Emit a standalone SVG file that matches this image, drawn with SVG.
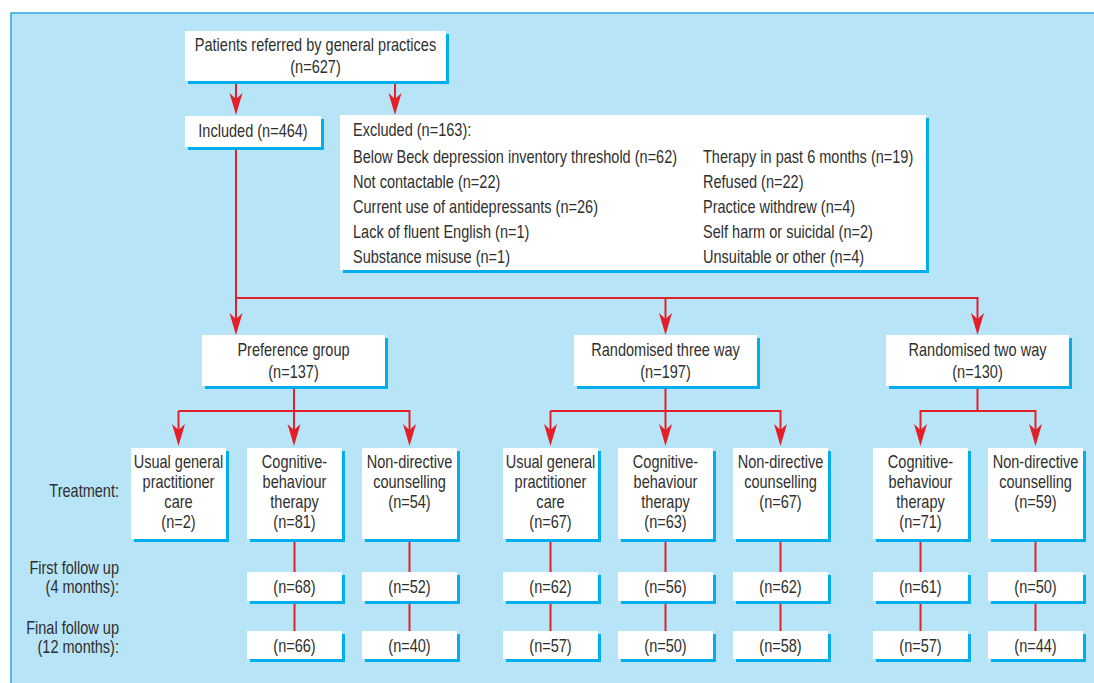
<svg xmlns="http://www.w3.org/2000/svg" width="1094" height="683" viewBox="0 0 1094 683">
<style>
.bg{fill:#b8e4f8;stroke:#2aa7df;stroke-width:1.5}
.box{fill:#ffffff}
.sh{fill:#00adee}
.t{font-family:"Liberation Sans",Arial,sans-serif;font-size:17.5px;fill:#2f2f2f}
.c{text-anchor:middle}
.e{text-anchor:end}
.ln{stroke:#e3202a;stroke-width:2;fill:none}
.ar{marker-end:url(#ah)}
</style>
<defs>
<marker id="ah" markerUnits="userSpaceOnUse" viewBox="-23 -8 24 16" refX="-8" refY="0" markerWidth="24" markerHeight="16" orient="auto">
<path d="M0,0 L-22,-6.5 L-16,0 L-22,6.5 Z" fill="#e3202a"/>
</marker>
</defs>
<rect x="0" y="0" width="1094" height="683" fill="#ffffff"/>
<rect class="bg" x="11" y="13" width="1100" height="690"/>

<g id="connectors">
<path class="ln ar" d="M236,81 V107"/>
<path class="ln ar" d="M395,81 V107"/>
<path class="ln ar" d="M236,147 V327"/>
<path class="ln ar" d="M236,298 H977.5 V327"/>
<path class="ln ar" d="M665.5,298 V327"/>
<path class="ln ar" d="M294,386 V438"/>
<path class="ln ar" d="M178.5,411 H409.5 V438"/>
<path class="ln ar" d="M178.5,411 V438"/>
<path class="ln ar" d="M665.5,386 V438"/>
<path class="ln ar" d="M550.5,411 H780.5 V438"/>
<path class="ln ar" d="M550.5,411 V438"/>
<path class="ln ar" d="M977.5,386 V411 H1035.5 V438"/>
<path class="ln ar" d="M977.5,411 H920.5 V438"/>
<path class="ln" d="M294.5,539 V572 M294.5,601 V631 M409.5,539 V572 M409.5,601 V631 M550.5,539 V572 M550.5,601 V631 M665.5,539 V572 M665.5,601 V631 M780.5,539 V572 M780.5,601 V631 M920.5,539 V572 M920.5,601 V631 M1035.5,539 V572 M1035.5,601 V631"/>
</g>

<g id="referred">
<rect class="sh" x="188" y="34" width="261" height="50"/>
<rect class="box" x="185" y="31" width="261" height="50"/>
<g transform="translate(315.5 0) scale(0.83 1)"><text class="t c" x="0" y="51.5">Patients referred by general practices</text><text class="t c" x="0" y="73">(n=627)</text></g>
</g>

<g id="included">
<rect class="sh" x="188" y="119" width="136" height="31"/>
<rect class="box" x="185" y="116" width="136" height="31"/>
<g transform="translate(253 0) scale(0.83 1)"><text class="t c" x="0" y="137">Included (n=464)</text></g>
</g>

<g id="excluded">
<rect class="sh" x="343" y="118" width="586" height="155"/>
<rect class="box" x="340" y="115" width="586" height="155"/>
<g transform="translate(353 0) scale(0.83 1)">
<text class="t" x="0" y="136">Excluded (n=163):</text>
<text class="t" x="0" y="163">Below Beck depression inventory threshold (n=62)</text>
<text class="t" x="0" y="188">Not contactable (n=22)</text>
<text class="t" x="0" y="213">Current use of antidepressants (n=26)</text>
<text class="t" x="0" y="238">Lack of fluent English (n=1)</text>
<text class="t" x="0" y="263">Substance misuse (n=1)</text>
</g>
<g transform="translate(703 0) scale(0.83 1)">
<text class="t" x="0" y="163">Therapy in past 6 months (n=19)</text>
<text class="t" x="0" y="188">Refused (n=22)</text>
<text class="t" x="0" y="213">Practice withdrew (n=4)</text>
<text class="t" x="0" y="238">Self harm or suicidal (n=2)</text>
<text class="t" x="0" y="263">Unsuitable or other (n=4)</text>
</g>
</g>

<g id="preference">
<rect class="sh" x="205" y="338" width="183" height="51"/>
<rect class="box" x="202" y="335" width="183" height="51"/>
<g transform="translate(293.5 0) scale(0.83 1)"><text class="t c" x="0" y="356.5">Preference group</text><text class="t c" x="0" y="378">(n=137)</text></g>
</g>

<g id="three-way">
<rect class="sh" x="577" y="338" width="183" height="51"/>
<rect class="box" x="574" y="335" width="183" height="51"/>
<g transform="translate(665.5 0) scale(0.83 1)"><text class="t c" x="0" y="356.5">Randomised three way</text><text class="t c" x="0" y="378">(n=197)</text></g>
</g>

<g id="two-way">
<rect class="sh" x="889" y="338" width="183" height="51"/>
<rect class="box" x="886" y="335" width="183" height="51"/>
<g transform="translate(977.5 0) scale(0.83 1)"><text class="t c" x="0" y="356.5">Randomised two way</text><text class="t c" x="0" y="378">(n=130)</text></g>
</g>

<g id="row-labels">
<g transform="translate(119 0) scale(0.83 1)">
<text class="t e" x="0" y="497">Treatment:</text>
<text class="t e" x="0" y="574">First follow up</text>
<text class="t e" x="0" y="593">(4 months):</text>
<text class="t e" x="0" y="634">Final follow up</text>
<text class="t e" x="0" y="653">(12 months):</text>
</g>
</g>

<g id="pref-usual">
<rect class="sh" x="134" y="451" width="95" height="91"/>
<rect class="box" x="131" y="448" width="95" height="91"/>
<g transform="translate(178.5 0) scale(0.83 1)"><text class="t c" x="0" y="468">Usual general</text><text class="t c" x="0" y="488">practitioner</text><text class="t c" x="0" y="508">care</text><text class="t c" x="0" y="528">(n=2)</text></g>
</g>

<g id="pref-cbt">
<rect class="sh" x="250" y="451" width="95" height="91"/>
<rect class="box" x="247" y="448" width="95" height="91"/>
<g transform="translate(294.5 0) scale(0.83 1)"><text class="t c" x="0" y="468">Cognitive-</text><text class="t c" x="0" y="488">behaviour</text><text class="t c" x="0" y="508">therapy</text><text class="t c" x="0" y="528">(n=81)</text></g>
</g>
<g id="pref-cbt-4m"><rect class="sh" x="250" y="575" width="95" height="29"/><rect class="box" x="247" y="572" width="95" height="29"/><g transform="translate(294.5 0) scale(0.83 1)"><text class="t c" x="0" y="593">(n=68)</text></g></g>
<g id="pref-cbt-12m"><rect class="sh" x="250" y="634" width="95" height="28"/><rect class="box" x="247" y="631" width="95" height="28"/><g transform="translate(294.5 0) scale(0.83 1)"><text class="t c" x="0" y="652">(n=66)</text></g></g>

<g id="pref-ndc">
<rect class="sh" x="365" y="451" width="95" height="91"/>
<rect class="box" x="362" y="448" width="95" height="91"/>
<g transform="translate(409.5 0) scale(0.83 1)"><text class="t c" x="0" y="468">Non-directive</text><text class="t c" x="0" y="488">counselling</text><text class="t c" x="0" y="508">(n=54)</text></g>
</g>
<g id="pref-ndc-4m"><rect class="sh" x="365" y="575" width="95" height="29"/><rect class="box" x="362" y="572" width="95" height="29"/><g transform="translate(409.5 0) scale(0.83 1)"><text class="t c" x="0" y="593">(n=52)</text></g></g>
<g id="pref-ndc-12m"><rect class="sh" x="365" y="634" width="95" height="28"/><rect class="box" x="362" y="631" width="95" height="28"/><g transform="translate(409.5 0) scale(0.83 1)"><text class="t c" x="0" y="652">(n=40)</text></g></g>

<g id="three-usual">
<rect class="sh" x="506" y="451" width="95" height="91"/>
<rect class="box" x="503" y="448" width="95" height="91"/>
<g transform="translate(550.5 0) scale(0.83 1)"><text class="t c" x="0" y="468">Usual general</text><text class="t c" x="0" y="488">practitioner</text><text class="t c" x="0" y="508">care</text><text class="t c" x="0" y="528">(n=67)</text></g>
</g>
<g id="three-usual-4m"><rect class="sh" x="506" y="575" width="95" height="29"/><rect class="box" x="503" y="572" width="95" height="29"/><g transform="translate(550.5 0) scale(0.83 1)"><text class="t c" x="0" y="593">(n=62)</text></g></g>
<g id="three-usual-12m"><rect class="sh" x="506" y="634" width="95" height="28"/><rect class="box" x="503" y="631" width="95" height="28"/><g transform="translate(550.5 0) scale(0.83 1)"><text class="t c" x="0" y="652">(n=57)</text></g></g>

<g id="three-cbt">
<rect class="sh" x="621" y="451" width="95" height="91"/>
<rect class="box" x="618" y="448" width="95" height="91"/>
<g transform="translate(665.5 0) scale(0.83 1)"><text class="t c" x="0" y="468">Cognitive-</text><text class="t c" x="0" y="488">behaviour</text><text class="t c" x="0" y="508">therapy</text><text class="t c" x="0" y="528">(n=63)</text></g>
</g>
<g id="three-cbt-4m"><rect class="sh" x="621" y="575" width="95" height="29"/><rect class="box" x="618" y="572" width="95" height="29"/><g transform="translate(665.5 0) scale(0.83 1)"><text class="t c" x="0" y="593">(n=56)</text></g></g>
<g id="three-cbt-12m"><rect class="sh" x="621" y="634" width="95" height="28"/><rect class="box" x="618" y="631" width="95" height="28"/><g transform="translate(665.5 0) scale(0.83 1)"><text class="t c" x="0" y="652">(n=50)</text></g></g>

<g id="three-ndc">
<rect class="sh" x="736" y="451" width="95" height="91"/>
<rect class="box" x="733" y="448" width="95" height="91"/>
<g transform="translate(780.5 0) scale(0.83 1)"><text class="t c" x="0" y="468">Non-directive</text><text class="t c" x="0" y="488">counselling</text><text class="t c" x="0" y="508">(n=67)</text></g>
</g>
<g id="three-ndc-4m"><rect class="sh" x="736" y="575" width="95" height="29"/><rect class="box" x="733" y="572" width="95" height="29"/><g transform="translate(780.5 0) scale(0.83 1)"><text class="t c" x="0" y="593">(n=62)</text></g></g>
<g id="three-ndc-12m"><rect class="sh" x="736" y="634" width="95" height="28"/><rect class="box" x="733" y="631" width="95" height="28"/><g transform="translate(780.5 0) scale(0.83 1)"><text class="t c" x="0" y="652">(n=58)</text></g></g>

<g id="two-cbt">
<rect class="sh" x="876" y="451" width="95" height="91"/>
<rect class="box" x="873" y="448" width="95" height="91"/>
<g transform="translate(920.5 0) scale(0.83 1)"><text class="t c" x="0" y="468">Cognitive-</text><text class="t c" x="0" y="488">behaviour</text><text class="t c" x="0" y="508">therapy</text><text class="t c" x="0" y="528">(n=71)</text></g>
</g>
<g id="two-cbt-4m"><rect class="sh" x="876" y="575" width="95" height="29"/><rect class="box" x="873" y="572" width="95" height="29"/><g transform="translate(920.5 0) scale(0.83 1)"><text class="t c" x="0" y="593">(n=61)</text></g></g>
<g id="two-cbt-12m"><rect class="sh" x="876" y="634" width="95" height="28"/><rect class="box" x="873" y="631" width="95" height="28"/><g transform="translate(920.5 0) scale(0.83 1)"><text class="t c" x="0" y="652">(n=57)</text></g></g>

<g id="two-ndc">
<rect class="sh" x="991" y="451" width="95" height="91"/>
<rect class="box" x="988" y="448" width="95" height="91"/>
<g transform="translate(1035.5 0) scale(0.83 1)"><text class="t c" x="0" y="468">Non-directive</text><text class="t c" x="0" y="488">counselling</text><text class="t c" x="0" y="508">(n=59)</text></g>
</g>
<g id="two-ndc-4m"><rect class="sh" x="991" y="575" width="95" height="29"/><rect class="box" x="988" y="572" width="95" height="29"/><g transform="translate(1035.5 0) scale(0.83 1)"><text class="t c" x="0" y="593">(n=50)</text></g></g>
<g id="two-ndc-12m"><rect class="sh" x="991" y="634" width="95" height="28"/><rect class="box" x="988" y="631" width="95" height="28"/><g transform="translate(1035.5 0) scale(0.83 1)"><text class="t c" x="0" y="652">(n=44)</text></g></g>
</svg>
